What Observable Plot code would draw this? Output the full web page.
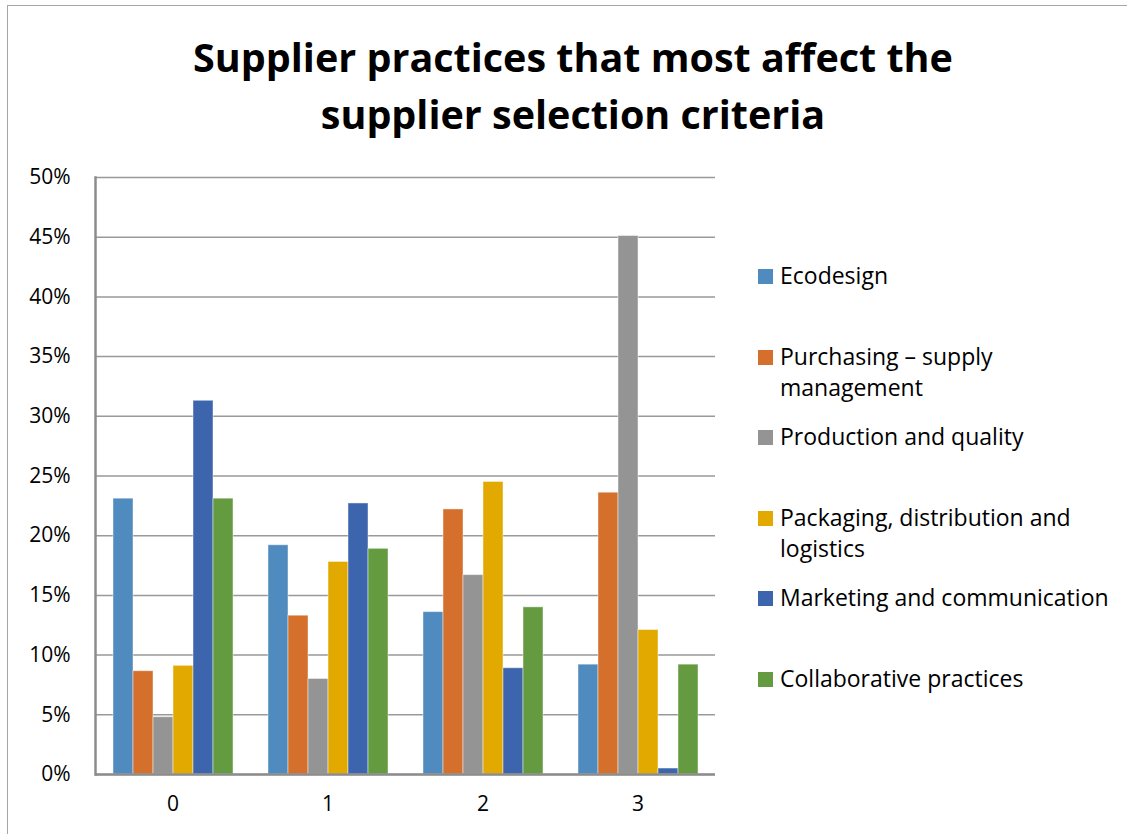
<!DOCTYPE html>
<html>
<head>
<meta charset="utf-8">
<script src="https://cdn.jsdelivr.net/npm/d3@7"></script>
<script src="https://cdn.jsdelivr.net/npm/@observablehq/plot@0.6"></script>
<style>
  html, body { margin: 0; padding: 0; background: #fff; overflow: hidden; }
  #wrap { position: relative; width: 1127px; height: 834px; overflow: hidden; font-family: "Open Sans", Lato, sans-serif; color: #000; }
  #border { position: absolute; left: 7px; top: 5px; width: 1300px; height: 1000px; border: 1.5px solid #a6a6a6; box-sizing: border-box; }
  #title { position: absolute; left: 0; top: 29px; width: 1146px; text-align: center; font-weight: bold; font-size: 39.5px; line-height: 57px; }
  #chart { position: absolute; left: 0; top: 150px; }
  #legend { position: absolute; left: 758px; top: 260px; }
  .item { position: relative; height: 80.6px; }
  .sw { position: absolute; left: 0; top: 9px; width: 15px; height: 15px; }
  .lab { position: absolute; left: 22px; top: 0; width: 345px; font-size: 23px; line-height: 31.5px; white-space: normal; }
</style>
</head>
<body>
<div id="wrap">
  <div id="border"></div>
  <div id="title">Supplier practices that most affect the<br>supplier selection criteria</div>
  <div id="chart"></div>
  <div id="legend"></div>
</div>
<script>
const categories = ["0", "1", "2", "3"];
const series = [
  "Ecodesign",
  "Purchasing – supply management",
  "Production and quality",
  "Packaging, distribution and logistics",
  "Marketing and communication",
  "Collaborative practices"
];
const colors = ["#4f8bbe", "#d46f2c", "#949494", "#e2aa00", "#3d65ad", "#659b40"];
const ecodesign     = [0.231, 0.192, 0.136, 0.092];
const purchasing    = [0.0865, 0.133, 0.222, 0.236];
const production    = [0.048, 0.080, 0.167, 0.451];
const packaging     = [0.091, 0.178, 0.245, 0.121];
const marketing     = [0.313, 0.227, 0.089, 0.005];
const collaborative = [0.231, 0.189, 0.140, 0.092];
const yTicks = [0, 0.05, 0.10, 0.15, 0.20, 0.25, 0.30, 0.35, 0.40, 0.45, 0.50];

const valuesBySeries = [ecodesign, purchasing, production, packaging, marketing, collaborative];
const data = categories.flatMap((c, i) =>
  series.map((s, j) => ({category: c, series: s, value: valuesBySeries[j][i]}))
);

const chart = Plot.plot({
  width: 740,
  height: 684,
  marginLeft: 95,
  marginRight: 25,
  marginTop: 27,
  marginBottom: 60,
  style: {fontFamily: "'Open Sans', Lato, sans-serif", fontSize: "21px", color: "#000", background: "transparent", overflow: "visible"},
  fx: {domain: categories, padding: 0, label: null},
  x: {domain: series, paddingInner: 0, paddingOuter: 0.75, axis: null},
  y: {domain: [0, 0.5], axis: null},
  color: {domain: series, range: colors},
  marks: [
    Plot.gridY(yTicks, {stroke: "#999", strokeOpacity: 1, strokeWidth: 1.5}),
    Plot.barY(data, {fx: "category", x: "series", y: "value", fill: "series", stroke: "#fff", strokeOpacity: 0.45, strokeWidth: 1}),
    Plot.ruleY([0], {stroke: "#8c8c8c", strokeWidth: 2.5}),
    Plot.frame({anchor: "left", facetAnchor: "left", stroke: "#8c8c8c", strokeWidth: 2.5}),
    Plot.axisY(yTicks, {tickFormat: d3.format(".0%"), tickSize: 0, tickPadding: 25, label: null, fontSize: 21}),
    Plot.axisFx({anchor: "bottom", tickSize: 0, tickPadding: 22, label: null, fontSize: 21})
  ]
});
document.getElementById("chart").appendChild(chart);

const legend = document.getElementById("legend");
series.forEach((s, i) => {
  const item = document.createElement("div");
  item.className = "item";
  const sw = document.createElement("div");
  sw.className = "sw";
  sw.style.background = colors[i];
  const lab = document.createElement("div");
  lab.className = "lab";
  lab.textContent = s;
  item.appendChild(sw);
  item.appendChild(lab);
  legend.appendChild(item);
});
</script>
</body>
</html>
